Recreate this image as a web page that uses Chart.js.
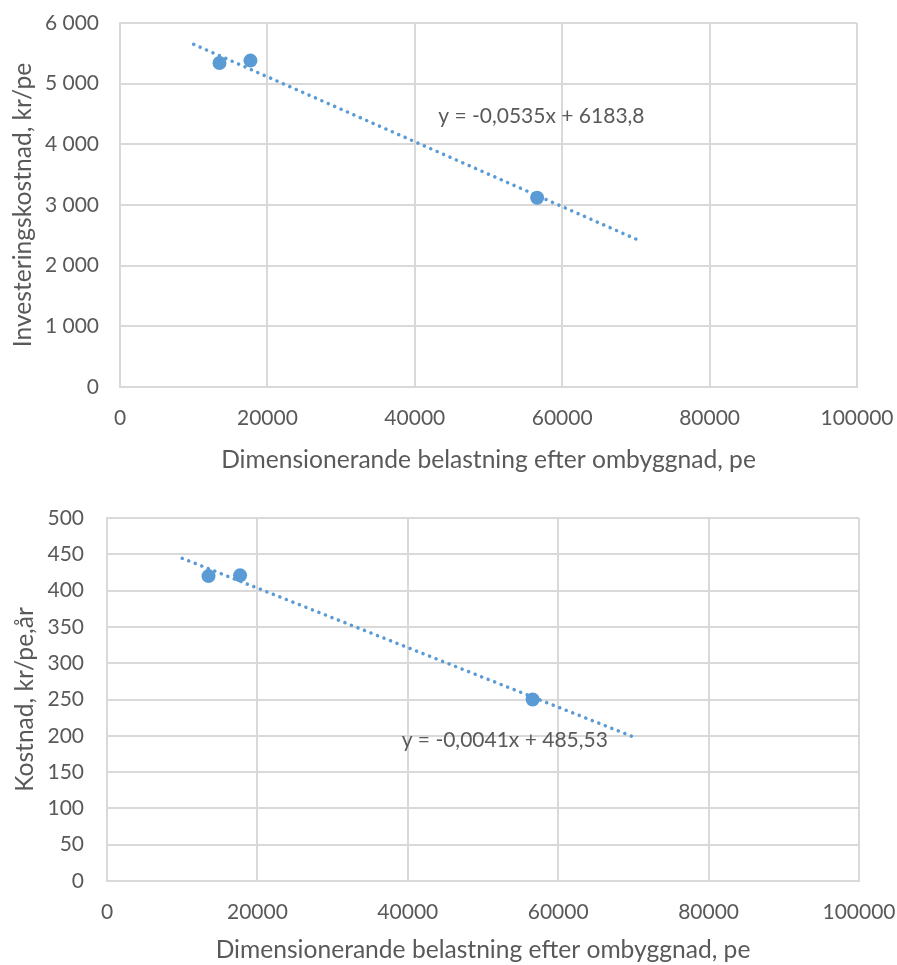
<!DOCTYPE html>
<html lang="sv">
<head>
<meta charset="UTF-8">
<title>Kostnad mot dimensionerande belastning</title>
<script src="https://cdn.jsdelivr.net/npm/chart.js"></script>
<style>
  body { margin: 0; background: #fff; }
  .chart-box { position: absolute; left: 0; width: 897px; }
  #top-box { top: 0; height: 482px; }
  #bottom-box { top: 482px; height: 483px; }
</style>
</head>
<body>
<div id="top-box" class="chart-box"><canvas id="investChart" width="897" height="482"></canvas></div>
<div id="bottom-box" class="chart-box"><canvas id="costChart" width="897" height="483"></canvas></div>
<script>
// Dimensionerande belastning efter ombyggnad (pe) for the three plants
const loadPe = [13500, 17700, 56600];
const investCost = [5340, 5380, 3120];   // kr/pe
const yearlyCost = [420, 421, 250];      // kr/pe,år

// Linear trend lines: [slope, intercept], plotted over trendRange
const investTrend = [-0.0535, 6183.8];
const yearlyTrend = [-0.0041, 485.53];
const trendRange = [10000, 70000];

const xTicks = ['0', '20000', '40000', '60000', '80000', '100000'];
const investTicks = ['0', '1 000', '2 000', '3 000', '4 000', '5 000', '6 000'];
const yearlyTicks = ['0', '50', '100', '150', '200', '250', '300', '350', '400', '450', '500'];

const TEXT = '#595959';
const GRID = '#d9d9d9';
const BLUE = '#5b9bd5';
const FONT = 'Lato';

// draws the trend line equation next to the line
const equationLabel = {
  id: 'equationLabel',
  afterDatasetsDraw(chart, args, opts) {
    const { ctx, scales: { x, y } } = chart;
    ctx.save();
    ctx.font = opts.size + 'px ' + FONT;
    ctx.fillStyle = TEXT;
    ctx.textAlign = 'left';
    ctx.textBaseline = 'middle';
    ctx.fillText(opts.text, x.getPixelForValue(opts.x), y.getPixelForValue(opts.y));
    ctx.restore();
  }
};

function makeChart(id, c) {
  const trendPts = trendRange.map(v => ({ x: v, y: c.trend[0] * v + c.trend[1] }));
  return new Chart(document.getElementById(id), {
    type: 'scatter',
    data: {
      datasets: [
        {
          data: loadPe.map((v, i) => ({ x: v, y: c.values[i] })),
          backgroundColor: BLUE,
          borderColor: BLUE,
          pointRadius: 7,
          pointBorderWidth: 0
        },
        {
          data: trendPts,
          showLine: true,
          pointRadius: 0,
          borderColor: BLUE,
          borderWidth: 3.5,
          borderDash: [0.1, 6.9],
          borderCapStyle: 'round'
        }
      ]
    },
    options: {
      responsive: false,
      animation: false,
      events: [],
      layout: { padding: { left: 0, right: c.padRight, top: c.padTop, bottom: 0 } },
      plugins: {
        legend: { display: false },
        tooltip: { enabled: false },
        equationLabel: c.equation
      },
      scales: {
        x: {
          type: 'linear',
          min: 0,
          max: 100000,
          ticks: {
            stepSize: 20000,
            autoSkip: false,
            maxRotation: 0,
            padding: c.xTickPad,
            color: TEXT,
            font: { family: FONT, size: 21 },
            callback: (v, i) => xTicks[i]
          },
          grid: { color: GRID, lineWidth: 2, drawTicks: false },
          border: { color: GRID, width: 2 },
          title: {
            display: true,
            text: 'Dimensionerande belastning efter ombyggnad, pe',
            color: TEXT,
            font: { family: FONT, size: 24.6, lineHeight: 1.2 },
            padding: { top: 0, bottom: c.xTitlePad }
          },
          afterFit: s => {
            s.height = c.xAxisHeight;
            // the layout padding already leaves room for the end labels
            s.paddingLeft = 0;
            s.paddingRight = 0;
          }
        },
        y: {
          min: 0,
          max: c.yMax,
          ticks: {
            stepSize: c.yStep,
            padding: c.yTickPad,
            color: TEXT,
            font: { family: FONT, size: 21 },
            callback: (v, i) => c.yTicks[i]
          },
          grid: { color: GRID, lineWidth: 2, drawTicks: false },
          border: { color: GRID, width: 2 },
          title: {
            display: true,
            text: c.yTitle,
            color: TEXT,
            font: { family: FONT, size: 24.6, lineHeight: 1.2 },
            padding: { top: c.yTitlePad, bottom: 0 }
          },
          afterFit: s => {
            s.width = c.yAxisWidth;
            s.paddingTop = 0;
            s.paddingBottom = 0;
          }
        }
      }
    },
    plugins: [equationLabel]
  });
}

makeChart('investChart', {
  values: investCost,
  trend: investTrend,
  yTicks: investTicks,
  yMax: 6000,
  yStep: 1000,
  yTitle: 'Investeringskostnad, kr/pe',
  equation: { text: 'y = -0,0535x + 6183,8', x: 43180, y: 4460, size: 21 },
  padTop: 23, padRight: 40,
  yAxisWidth: 120, xAxisHeight: 95,
  yTickPad: 21, xTickPad: 19,
  yTitlePad: 8, xTitlePad: 7
});

makeChart('costChart', {
  values: yearlyCost,
  trend: yearlyTrend,
  yTicks: yearlyTicks,
  yMax: 500,
  yStep: 50,
  yTitle: 'Kostnad, kr/pe,år',
  equation: { text: 'y = -0,0041x + 485,53', x: 39180, y: 194, size: 21 },
  padTop: 36, padRight: 38,
  yAxisWidth: 107, xAxisHeight: 84,
  yTickPad: 23, xTickPad: 19,
  yTitlePad: 10, xTitlePad: 0
});
</script>
</body>
</html>
